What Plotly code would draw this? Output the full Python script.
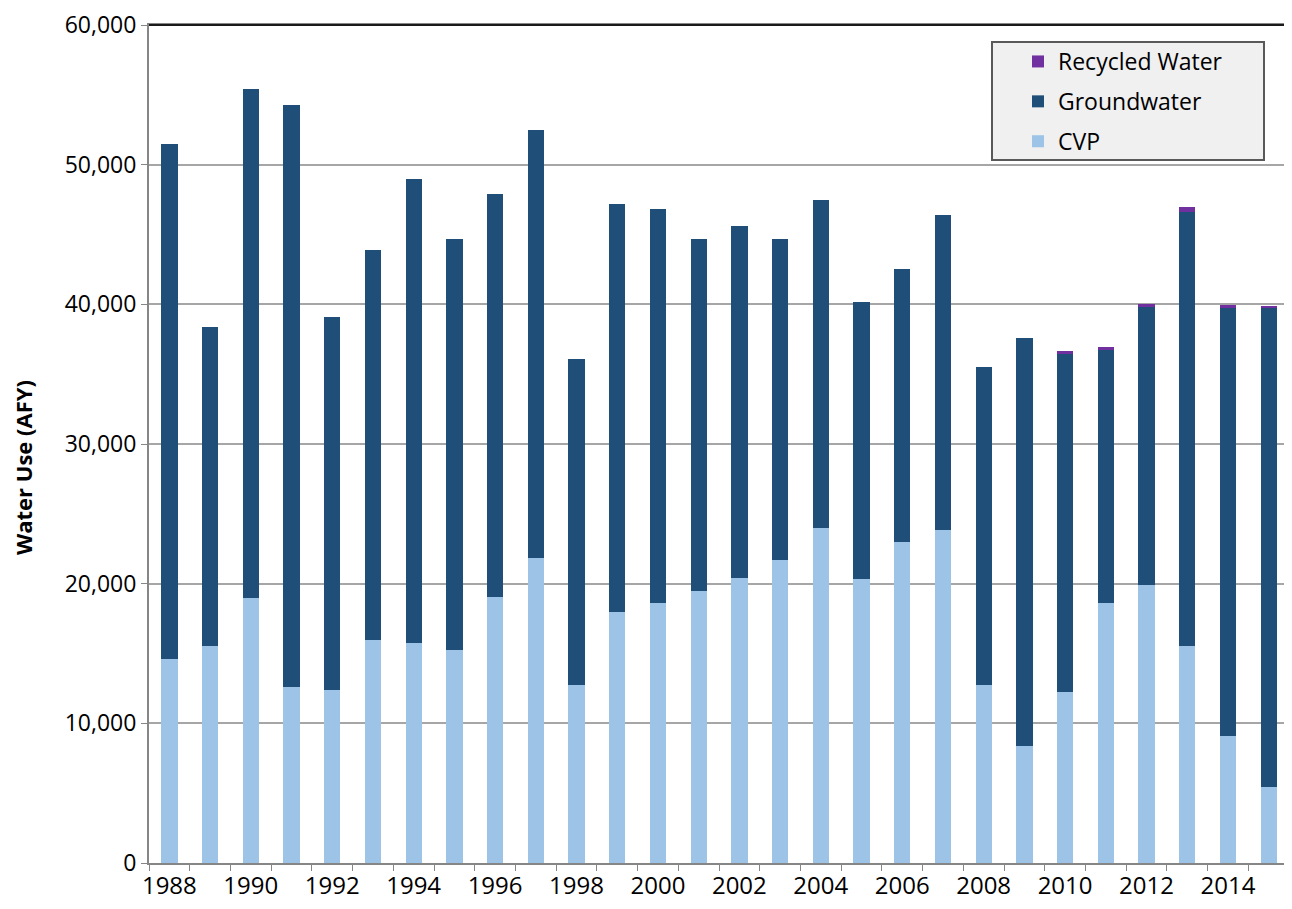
import plotly.graph_objects as go

years = list(range(1988, 2016))
cvp = [14600, 15530, 18960, 12620, 12360, 15960, 15760, 15240, 19050, 21860,
       12760, 18000, 18620, 19500, 20380, 21690, 23980, 20360, 22960, 23810,
       12720, 8410, 12240, 18620, 19910, 15530, 9100, 5460]
total_gw_cvp = [51480, 38410, 55390, 54240, 39100, 43900, 49000, 44670, 47930, 52500,
                36100, 47200, 46800, 44670, 45620, 44670, 47460, 40190, 42500, 46380,
                35500, 37570, 36460, 36740, 39790, 46620, 39720, 39790]
groundwater = [t - c for t, c in zip(total_gw_cvp, cvp)]
recycled = [0, 0, 0, 0, 0, 0, 0, 0, 0, 0,
            0, 0, 0, 0, 0, 0, 0, 0, 0, 0,
            0, 0, 200, 190, 240, 360, 240, 120]

series_names = ["CVP", "Groundwater", "Recycled Water"]
series_colors = ["#9DC3E6", "#1F4E79", "#7030A0"]
series_values = [cvp, groundwater, recycled]
legend_ranks = [3, 2, 1]

tick_years = list(range(1988, 2016, 2))
y_ticks = list(range(0, 60001, 10000))

FONT = "Open Sans"
OFF = 8  # page body margin

fig = go.Figure()
for name, color, vals, rank in zip(series_names, series_colors, series_values, legend_ranks):
    fig.add_trace(go.Bar(
        x=years, y=vals, name=name, marker=dict(color=color, line=dict(width=0)),
        legendgroup=name, legendrank=rank,
    ))

# screen-pixel targets
S_L, S_R, S_T, S_B = 149, 1289, 25, 863
W, H = 1292 - OFF, 909 - OFF
L, T = S_L - OFF, S_T - OFF
R = W - (S_R - OFF)
B = H - (S_B - OFF)
pw, ph = S_R - S_L, S_B - S_T

def px_x(px):
    return (px - S_L) / pw

def px_y(py):
    return (S_B - py) / ph

fig.update_layout(
    width=W, height=H,
    margin=dict(l=L, r=R, t=T, b=B, pad=0, autoexpand=False),
    barmode="stack",
    bargap=0.6,
    plot_bgcolor="white",
    paper_bgcolor="white",
    font=dict(family=FONT, size=24, color="black"),
    showlegend=True,
    legend=dict(
        x=px_x(1018), y=px_y(40),
        xanchor="left", yanchor="top",
        traceorder="grouped",
        tracegroupgap=7,
        bgcolor="rgba(0,0,0,0)",
        font=dict(family=FONT, size=23, color="black"),
    ),
    xaxis=dict(
        range=[1987.5, 2015.5], automargin=False,
        tickmode="array", tickvals=tick_years, ticktext=[str(y) for y in tick_years],
        ticks="", showgrid=False, zeroline=False, ticklabeloverflow="allow",
        showline=True, linecolor="#868686", linewidth=2, mirror=True,
        tickfont=dict(family=FONT, size=24, color="black"),
        minor=dict(tickmode="array", tickvals=[1987.5 + i for i in range(29)],
                   ticks="outside", ticklen=6, tickcolor="#868686", tickwidth=1,
                   showgrid=False),
    ),
    yaxis=dict(
        range=[0, 60000], automargin=False,
        tickmode="array", tickvals=y_ticks, tickformat=",",
        ticks="outside", ticklen=6, tickcolor="#868686",
        showgrid=True, gridcolor="#A6A6A6", gridwidth=1.5,
        zeroline=False, ticklabeloverflow="allow",
        showline=True, linecolor="#868686", linewidth=2, mirror=True,
        tickfont=dict(family=FONT, size=23, color="black"),
    ),
    annotations=[
        dict(text="<b>Water Use (AFY)</b>", xref="paper", yref="paper",
             x=px_x(23), y=px_y(468), xanchor="center", yanchor="middle",
             textangle=-90, showarrow=False,
             font=dict(family=FONT, size=22, color="black")),
    ],
    shapes=[
        dict(type="rect", xref="paper", yref="paper",
             x0=px_x(992), x1=px_x(1264),
             y0=px_y(160), y1=px_y(42),
             fillcolor="#F0F0F0", line=dict(color="#595959", width=2), layer="above"),
        dict(type="line", xref="paper", yref="paper", x0=0, x1=1, y0=1, y1=1,
             line=dict(color="#1A1A1A", width=2), layer="above"),
    ],
)

fig.write_html("out.html")
